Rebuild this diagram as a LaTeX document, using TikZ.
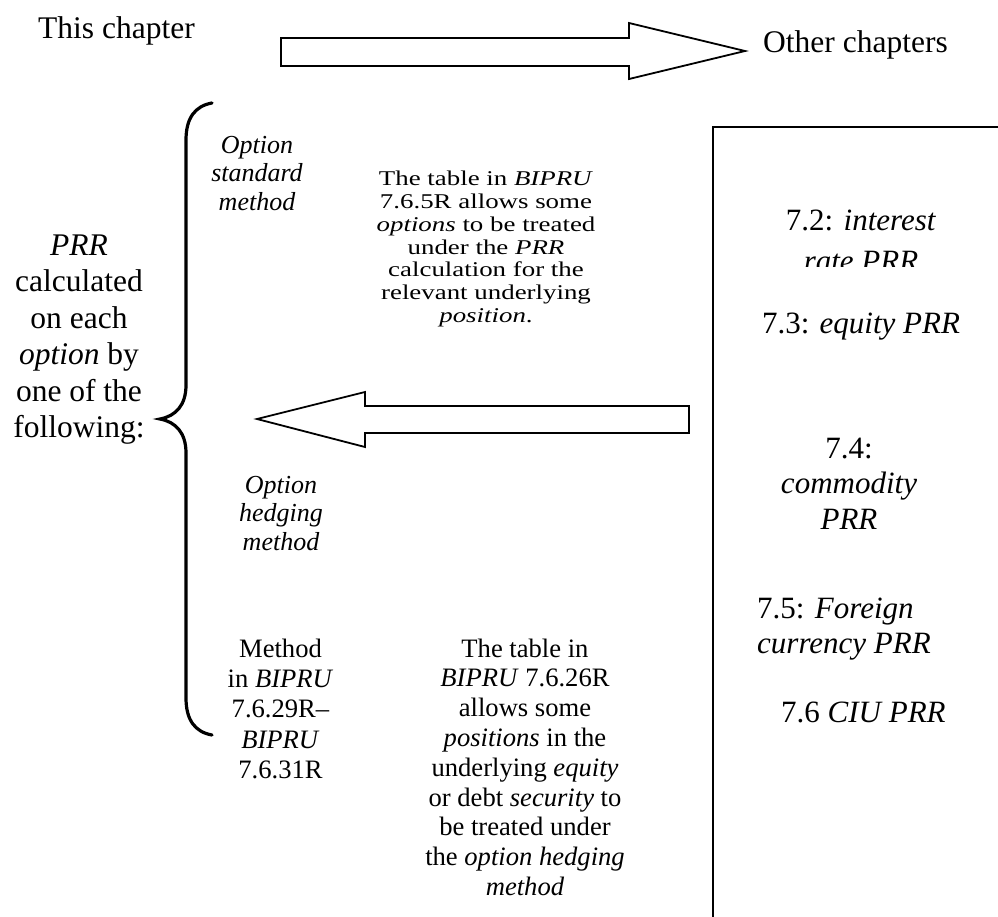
\documentclass[tikz,border=0pt]{standalone}
\usepackage{fontspec}
\setmainfont{Liberation Serif}
\newfontfamily\widefont[FakeStretch=1.28]{Liberation Serif}
\begin{document}
\begin{tikzpicture}[x=1pt,y=-1pt,
  big/.style={font=\fontsize{31.5}{36.5}\selectfont, inner sep=0pt, align=center, anchor=base},
  opt/.style={font=\fontsize{26}{28.5}\selectfont\itshape, inner sep=0pt, align=center, anchor=base},
  mid/.style={font=\widefont\fontsize{21}{22.8}\selectfont, inner sep=0pt, align=center, anchor=base},
  low/.style={font=\fontsize{26.6}{29.8}\selectfont, inner sep=0pt, align=center, anchor=base},
  rbox/.style={font=\fontsize{31}{35.5}\selectfont, inner sep=0pt, align=center, anchor=base},
  arrowline/.style={draw=black, line width=1.8pt, line join=miter},
  boxline/.style={draw=black, line width=2.2pt},
  braceline/.style={draw=black, line width=3.2pt, line cap=round}]
\useasboundingbox (0,0) rectangle (998,916);

% top texts (single lines: base anchor = baseline)
\node[big, anchor=base west] (this) at (38,38) {This chapter};
\node[big, anchor=base west] (other) at (763,52) {Other chapters};

% top block arrow
\coordinate (ta) at (281,38);
\draw[arrowline] (ta) -- (629,38) -- (629,23) -- (745,51) -- (629,79) -- (629,66) -- (281,66) -- cycle;

% right box
\coordinate (boxtr) at (1000,127);
\coordinate (boxtl) at (713,127);
\coordinate (boxbl) at (713,918);
\draw[boxline] (boxtr) -- (boxtl) -- (boxbl);

% left block arrow
\coordinate (la) at (689,406);
\draw[arrowline] (la) -- (365,406) -- (365,392) -- (257,419) -- (365,447) -- (365,433) -- (689,433) -- cycle;

% brace
\draw[braceline] (212,103) .. controls (195,106) and (186,118) .. (186,140)
  -- (186,385) .. controls (186,405) and (176,416) .. (160,419)
  .. controls (176,422) and (186,433) .. (186,453)
  -- (186,698) .. controls (186,720) and (195,732) .. (212,735);

% multi-line nodes: base anchor sits on the LAST line's baseline
\node[big] (prr) at (79,437.5) {\textit{PRR}\\calculated\\on each\\\textit{option} by\\one of the\\following:};

\node[opt] (osm) at (257,210) {Option\\standard\\method};
\node[opt] (ohm) at (281,550) {Option\\hedging\\method};

\node[mid] (tab1) at (486,322.5) {The table in \textit{BIPRU}\\7.6.5R allows some\\\textit{options} to be treated\\under the \textit{PRR}\\calculation for the\\relevant underlying\\\textit{position}.};

\node[low, font=\fontsize{26.6}{30.4}\selectfont] (meth) at (280.5,778.6) {Method\\in \textit{BIPRU}\\7.6.29R–\\\textit{BIPRU}\\7.6.31R};
\node[low] (tab2) at (525,895.4) {The table in\\\textit{BIPRU} 7.6.26R\\allows some\\\textit{positions} in the\\underlying \textit{equity}\\or debt \textit{security} to\\be treated under\\the \textit{option hedging}\\\textit{method}};

% right box texts
\begin{scope}
  \clip (715,190) rectangle (998,266.5);
  \node[rbox, font=\fontsize{31}{41}\selectfont] (r72) at (861,271) {7.2: \textit{interest}\\\textit{rate PRR}};
\end{scope}
\node[rbox] (r73) at (861,333) {7.3: \textit{equity PRR}};
\node[rbox] (r74) at (849,529) {7.4:\\\textit{commodity}\\\textit{PRR}};
\node[rbox, align=left, anchor=base west] (r75) at (757,653.5) {7.5: \textit{Foreign}\\\textit{currency PRR}};
\node[rbox, anchor=base west] (r76) at (781,722) {7.6 \textit{CIU PRR}};
\end{tikzpicture}
\end{document}
